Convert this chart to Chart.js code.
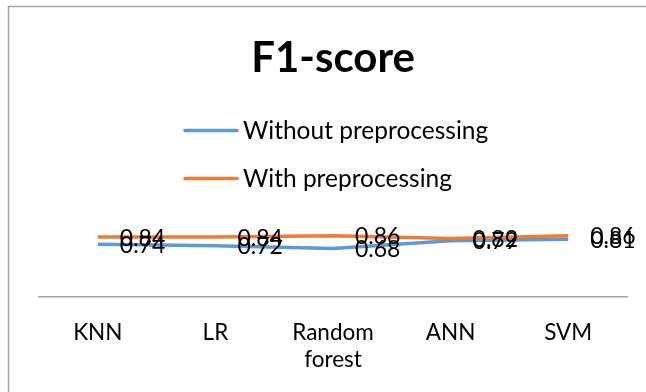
<!DOCTYPE html>
<html>
<head>
<meta charset="utf-8">
<script src="https://cdn.jsdelivr.net/npm/chart.js@4/dist/chart.umd.min.js"></script>
<style>
  html, body { margin: 0; padding: 0; background: #ffffff; }
  #wrap { width: 646px; height: 392px; }
</style>
</head>
<body>
<div id="wrap"><canvas id="chart" width="646" height="392"></canvas></div>
<script>
// Classifier names on the x axis ("Random forest" split over two lines)
const categories = ['KNN', 'LR', ['Random', 'forest'], 'ANN', 'SVM'];
// F1-score per classifier
const withoutPreprocessing = [0.74, 0.72, 0.68, 0.79, 0.81];
const withPreprocessing = [0.84, 0.84, 0.86, 0.82, 0.86];
const seriesNames = ['Without preprocessing', 'With preprocessing'];

const BLUE = '#5B9BD5';
const ORANGE = '#ED7D31';
const FONT = 'Lato';

// Frame around the whole chart
const framePlugin = {
  id: 'frame',
  beforeDraw(chart) {
    const ctx = chart.ctx;
    ctx.save();
    ctx.fillStyle = '#ffffff';
    ctx.fillRect(0, 0, chart.width, chart.height);
    ctx.strokeStyle = '#a6a6a6';
    ctx.lineWidth = 1.5;
    ctx.strokeRect(8.5, 6.5, chart.width + 20, chart.height + 20);
    ctx.restore();
  }
};

// Legend stacked in two rows with line samples
const stackedLegend = {
  id: 'stackedLegend',
  afterDraw(chart) {
    const ctx = chart.ctx;
    const top = chart.chartArea.top;
    const rows = [top - 81, top - 33];
    ctx.save();
    ctx.font = '24.5px ' + FONT;
    ctx.textBaseline = 'middle';
    ctx.textAlign = 'left';
    chart.data.datasets.forEach((ds, i) => {
      const y = rows[i];
      ctx.strokeStyle = ds.borderColor;
      ctx.lineWidth = 3.5;
      ctx.lineCap = 'round';
      ctx.beginPath();
      ctx.moveTo(185, y);
      ctx.lineTo(237, y);
      ctx.stroke();
      ctx.fillStyle = '#000000';
      ctx.fillText(ds.label, 243, y + 1);
    });
    ctx.restore();
  }
};

// Value labels placed to the right of each point
const valueLabels = {
  id: 'valueLabels',
  afterDatasetsDraw(chart) {
    const ctx = chart.ctx;
    ctx.save();
    ctx.font = '23px ' + FONT;
    ctx.fillStyle = '#000000';
    ctx.textBaseline = 'middle';
    ctx.textAlign = 'left';
    chart.data.datasets.forEach((ds, i) => {
      const meta = chart.getDatasetMeta(i);
      meta.data.forEach((pt, j) => {
        ctx.fillText(ds.data[j].toFixed(2), pt.x + 22, pt.y + 1);
      });
    });
    ctx.restore();
  }
};

new Chart(document.getElementById('chart'), {
  type: 'line',
  data: {
    labels: categories,
    datasets: [
      {
        label: seriesNames[0],
        data: withoutPreprocessing,
        borderColor: BLUE,
        backgroundColor: BLUE,
        borderWidth: 3.5,
        pointRadius: 0,
        tension: 0,
        order: 1
      },
      {
        label: seriesNames[1],
        data: withPreprocessing,
        borderColor: ORANGE,
        backgroundColor: ORANGE,
        borderWidth: 3.5,
        pointRadius: 0,
        tension: 0,
        order: 0
      }
    ]
  },
  options: {
    responsive: false,
    animation: false,
    layout: { padding: { left: 39, right: 19, top: 0, bottom: 5 } },
    plugins: {
      legend: { display: false },
      tooltip: { enabled: false },
      title: {
        display: true,
        text: 'F1-score',
        color: '#000000',
        font: { family: FONT, size: 42, weight: 'bold' },
        padding: { top: 33, bottom: 128 }
      }
    },
    scales: {
      x: {
        offset: true,
        grid: { display: false },
        border: { display: true, color: '#a6a6a6', width: 1.5 },
        ticks: {
          color: '#000000',
          font: { family: FONT, size: 22.5, lineHeight: 1.2 },
          padding: 14,
          maxRotation: 0,
          autoSkip: false
        }
      },
      y: {
        display: false,
        min: 0,
        max: 1.2
      }
    }
  },
  plugins: [framePlugin, stackedLegend, valueLabels]
});
</script>
</body>
</html>
